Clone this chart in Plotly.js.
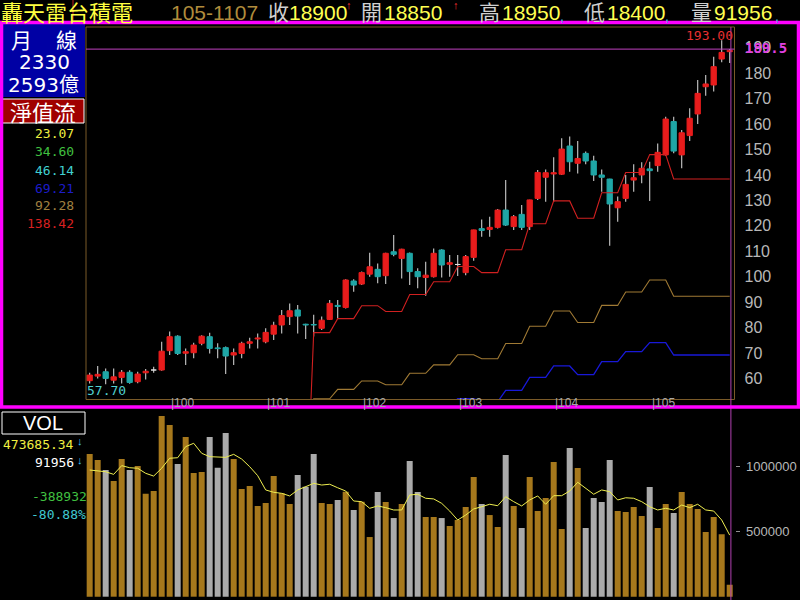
<!DOCTYPE html>
<html><head><meta charset="utf-8">
<script src="https://cdn.plot.ly/plotly-3.0.1.min.js"></script>
<style>html,body{margin:0;padding:0;background:#000}#chart{width:800px;height:600px}</style>
</head><body><div id="chart"></div>
<script>
// ---- data (monthly, index 0 = 99/03 ... index 80 = 105/11) ----
const openP = [59.1,60.9,62.6,59.3,60.4,62.4,58.7,62.2,63.3,63.3,
 70.9,76.6,69.9,70.1,73.8,76.4,72.0,72.1,69.2,69.8,
 73.8,75.5,74.4,77.4,81.0,84.3,86.9,81.3,81.2,79.7,
 83.2,88.7,87.9,98.3,97.1,101.0,102.9,100.4,109.8,107.2,
 109.2,102.0,99.7,100.0,110.5,104.9,104.8,101.6,107.6,118.9,
 118.6,119.4,126.2,119.7,124.5,119.7,130.8,139.1,140.4,140.3,
 151.4,144.6,148.5,145.5,140.0,138.4,127.1,130.8,138.0,140.0,
 142.4,143.7,147.9,161.0,147.9,155.5,164.0,174.7,175.4,185.6,
 188.5];
const highP = [62.2,64.9,63.9,63.9,63.3,63.2,62.6,63.7,64.6,74.4,
 78.4,77.0,71.8,74.0,77.0,78.0,73.8,72.5,71.8,74.4,
 76.0,77.7,79.7,82.3,86.9,89.5,88.9,81.5,85.0,84.3,
 90.8,90.8,99.0,99.0,102.0,109.4,105.2,109.4,116.4,111.0,
 109.5,103.3,105.9,111.1,110.8,108.5,108.5,108.5,118.5,122.5,
 123.6,126.6,138.0,124.3,128.2,130.3,142.0,142.2,147.0,154.4,
 155.1,153.4,149.2,147.6,142.2,138.5,131.5,140.0,144.2,145.0,
 145.2,152.4,162.9,162.9,157.7,166.2,177.4,179.3,186.5,193.0,
 189.5];
const lowP = [58.0,60.0,57.7,58.0,58.0,57.9,58.1,59.6,62.2,63.0,
 69.2,69.2,65.3,67.9,73.0,69.8,67.9,61.7,65.3,67.9,
 71.8,71.8,73.8,75.1,77.7,81.0,77.7,75.5,76.5,79.0,
 83.0,83.6,87.5,94.1,96.7,100.0,97.4,97.1,108.0,99.3,
 96.7,95.5,92.5,99.7,99.7,100.0,100.3,100.6,106.3,115.7,
 115.7,119.0,119.9,118.4,118.4,118.4,130.2,129.5,129.5,140.0,
 141.3,140.6,144.2,137.6,133.4,112.2,121.6,129.5,133.4,136.7,
 129.8,141.3,147.6,148.5,142.6,153.4,160.1,171.2,172.8,184.3,
 184.0];
const closeP = [61.3,61.6,60.0,60.6,62.4,58.4,61.7,62.8,63.3,70.7,
 76.4,69.8,70.5,73.1,76.6,71.8,71.7,68.8,70.1,73.8,
 74.4,75.9,78.1,80.9,84.7,86.6,84.5,81.0,81.0,82.9,
 89.5,88.3,98.7,96.7,101.6,103.9,100.0,109.2,108.8,110.8,
 102.0,100.0,100.6,109.2,104.6,105.5,104.8,107.9,118.4,118.2,
 119.4,126.2,120.3,123.6,119.4,130.2,141.0,140.9,140.9,150.2,
 145.2,146.5,145.5,140.0,139.1,128.6,129.5,136.3,138.9,142.6,
 141.7,148.9,162.0,149.4,156.6,162.3,172.1,175.8,182.6,188.2,
 189.0];
const volume = [1098000,1051000,975000,890000,1059000,975000,1005000,792000,813000,1390000,
 1321000,1021000,1228000,951000,959000,1228000,992000,1259000,1059000,828000,
 851000,698000,721000,928000,795000,713000,936000,846000,1098000,721000,
 713000,744000,808000,667000,731000,459000,805000,728000,605000,713000,
 1044000,805000,613000,613000,605000,544000,590000,690000,921000,713000,
 628000,536000,1090000,698000,528000,921000,659000,759000,1036000,521000,
 1144000,990000,528000,759000,728000,1051000,659000,651000,690000,621000,
 844000,528000,713000,644000,805000,713000,675000,498000,613000,480888,
 91956];
const volAvg = [974600,967000,961000,941000,1008000,992000,988000,949000,928000,988000,
 1065000,1069000,1154000,1180000,1103000,1077000,1072000,1072000,1095000,1059000,
 1000000,931000,821000,803000,795000,775000,821000,846000,872000,859000,
 865000,838000,813000,736000,731000,680000,698000,685000,667000,667000,
 782000,788000,757000,752000,718000,659000,590000,628000,675000,692000,
 711000,700000,769000,731000,698000,744000,775000,711000,777000,777000,
 813000,880000,834000,788000,821000,808000,744000,761000,757000,731000,
 692000,667000,680000,667000,705000,685000,711000,667000,659000,590000,
 473685.34];
// net-value-flow step lines, starting at month index 27
const navStart = 27;
const nav6x = [0, 78,78,78, 83.5,83.5,83.5, 88.6,88.6,88.6, 86.3,86.3,86.3, 93,93,93, 98,98,98,
 104,104,104, 101.6,101.6,101.6, 110.6,110.6,110.6, 120.8,120.8,120.8, 129.8,129.8,129.8,
 123,123,123, 133,133,133, 141,141,141, 148,148,148, 138.42,138.42,138.42,138.42,138.42,138.42,138.42,138.42];
const nav4x = [0, 52,52,52, 55.7,55.7,55.7, 59,59,59, 57.5,57.5,57.5, 62,62,62, 65.3,65.3,65.3,
 69.3,69.3,69.3, 67.7,67.7,67.7, 73.7,73.7,73.7, 80.5,80.5,80.5, 86.5,86.5,86.5,
 82,82,82, 88.7,88.7,88.7, 94,94,94, 98.7,98.7,98.7, 92.28,92.28,92.28,92.28,92.28,92.28,92.28,92.28];
const nav3x = [0, 39,39,39, 41.75,41.75,41.75, 44.3,44.3,44.3, 43.15,43.15,43.15, 46.5,46.5,46.5, 49,49,49,
 52,52,52, 50.8,50.8,50.8, 55.3,55.3,55.3, 60.4,60.4,60.4, 64.9,64.9,64.9,
 61.5,61.5,61.5, 66.6,66.6,66.6, 70.5,70.5,70.5, 74.1,74.1,74.1, 69.21,69.21,69.21,69.21,69.21,69.21,69.21,69.21];
const navLabels = ['23.07','34.60','46.14','69.21','92.28','138.42'];
const yearTickIdx = [10,22,34,46,58,70];
const yearTickText = ['100','101','102','103','104','105'];
const priceTicks = [60,70,80,90,100,110,120,130,140,150,160,170,180,190];
const volTicks = [500000,1000000];
const cursorLevel = 189.5;

// ---- helpers ----
const idx = openP.map((_, i) => i);
const navIdx = nav6x.map((_, i) => i + navStart);
const RED = '#e81c1c', CYAN = '#1fa6a6', WHITE = '#e0e0e0';
const bodyColor = idx.map(i => closeP[i] > openP[i] ? RED : (closeP[i] < openP[i] ? CYAN : WHITE));
const volColor = idx.map(i => closeP[i] >= openP[i] ? '#a6781c' : '#aaaaaa');
const W = 800, H = 600;
const px = x => x / W, py = y => 1 - y / H;

const traces = [
  { type: 'bar', x: idx, base: lowP, y: idx.map(i => highP[i] - lowP[i]), width: 0.14,
    marker: { color: '#c8c8c8', line: { width: 0 } }, xaxis: 'x', yaxis: 'y', hoverinfo: 'skip' },
  { type: 'bar', x: idx, base: openP, y: idx.map(i => closeP[i] - openP[i]), width: 0.66,
    marker: { color: bodyColor, line: { color: bodyColor, width: 1 } }, xaxis: 'x', yaxis: 'y', hoverinfo: 'skip' },
  { type: 'scatter', mode: 'lines', x: navIdx, y: nav3x, line: { color: '#1818d8', width: 1.3 }, xaxis: 'x', yaxis: 'y' },
  { type: 'scatter', mode: 'lines', x: navIdx, y: nav4x, line: { color: '#a07a34', width: 1.1 }, xaxis: 'x', yaxis: 'y' },
  { type: 'scatter', mode: 'lines', x: navIdx, y: nav6x, line: { color: '#d02020', width: 1.1 }, xaxis: 'x', yaxis: 'y' },
  { type: 'bar', x: idx, y: volume, width: 0.75, marker: { color: volColor, line: { width: 0 } },
    xaxis: 'x2', yaxis: 'y2', hoverinfo: 'skip' },
  { type: 'scatter', mode: 'lines', x: idx, y: volAvg, line: { color: '#eeee50', width: 1 }, xaxis: 'x2', yaxis: 'y2' }
];

const mono = 'DejaVu Sans Mono';
const cjk = 'Noto Sans CJK TC';
const sans = 'Liberation Sans';
function ann(text, x, y, size, color, family, anchor) {
  return { xref: 'paper', yref: 'paper', x: px(x), y: py(y), text: text, showarrow: false,
    xanchor: anchor || 'left', yanchor: 'middle', borderpad: 0, font: { size: size, color: color, family: family } };
}
const annotations = [
  // title bar
  ann('轟天雷台積電', 0, 11, 22, '#ffff40', cjk),
  ann('105-1107', 170, 12, 21, '#b08c3c', sans),
  ann('收', 267, 11, 21, '#d0d0d0', cjk),
  ann(String(Math.round(closeP[80] * 100)), 288, 12, 21, '#ffff50', sans),
  ann('↑', 345, 5, 11, '#ff3030', sans),
  ann('開', 360, 11, 21, '#d0d0d0', cjk),
  ann(String(Math.round(openP[80] * 100)), 383, 12, 21, '#ffff50', sans),
  ann('↑', 452, 5, 11, '#ff3030', sans),
  ann('高', 478, 11, 21, '#d0d0d0', cjk),
  ann(String(Math.round(highP[80] * 100)), 501, 12, 21, '#ffff50', sans),
  ann(',', 559, 16, 14, '#40c0e0', sans),
  ann('低', 583, 11, 21, '#d0d0d0', cjk),
  ann(String(Math.round(lowP[80] * 100)), 606, 12, 21, '#ffff50', sans),
  ann(',', 664, 16, 14, '#40c0e0', sans),
  ann('量', 690, 11, 21, '#d0d0d0', cjk),
  ann(String(volume[80]), 713, 12, 21, '#ffff50', sans),
  ann(',', 774, 16, 14, '#40c0e0', sans),
  // left info panel
  ann('月', 21, 39, 21, '#ffffff', cjk, 'center'),
  ann('線', 66, 39, 21, '#ffffff', cjk, 'center'),
  ann('2330', 44, 62, 20, '#ffffff', 'DejaVu Sans', 'center'),
  ann('2593億', 43, 85, 20, '#ffffff', 'DejaVu Sans, ' + cjk, 'center'),
  ann('淨值流', 43, 111, 22, '#ffffff', cjk, 'center'),
  ann(navLabels[0], 75, 133, 13, '#f0f040', mono, 'right'),
  ann(navLabels[1], 75, 151, 13, '#40c040', mono, 'right'),
  ann(navLabels[2], 75, 170, 13, '#40d0d0', mono, 'right'),
  ann(navLabels[3], 75, 188, 13, '#1c1cc8', mono, 'right'),
  ann(navLabels[4], 75, 206, 13, '#a08040', mono, 'right'),
  ann(navLabels[5], 75, 224, 13, '#d82020', mono, 'right'),
  // price labels
  ann(Math.max(...highP).toFixed(2), 734, 35, 13, '#e83030', mono, 'right'),
  ann('<b>' + cursorLevel.toFixed(1) + '</b>', 744, 48, 14, '#e040e0', mono),
  ann(Math.min(...lowP).toFixed(2), 86, 390, 13, '#50d0d0', mono),
  // volume left panel
  ann('VOL', 43, 423, 20, '#ffffff', sans, 'center'),
  ann(volAvg[80].toFixed(2), 75, 444, 13, '#f0f040', mono, 'right'),
  ann('↓', 76, 441, 11, '#40c8f0', sans),
  ann(String(volume[80]), 75, 463, 13, '#ffffff', mono, 'right'),
  ann('↓', 76, 460, 11, '#40c8f0', sans),
  ann(String(volume[80] - volume[79]), 88, 496, 13, '#40c040', mono, 'right'),
  ann(((volume[80] - volume[79]) / volume[79] * 100).toFixed(2) + '%', 87, 514, 13, '#40c8d0', mono, 'right')
];
// year ticks on the time axis
yearTickIdx.forEach((t, k) => {
  annotations.push({ xref: 'x', yref: 'paper', x: t + 0.1, y: py(403), text: '|' + yearTickText[k],
    showarrow: false, xanchor: 'left', yanchor: 'middle', borderpad: 0, font: { size: 12, color: '#a8a8a8', family: sans } });
});

const shapes = [
  { type: 'rect', xref: 'x domain', yref: 'y domain', x0: 0, x1: 1, y0: 0, y1: 1, line: { color: '#7a5a28', width: 1 } },
  { type: 'line', xref: 'x domain', yref: 'y', x0: 0, x1: 1, y0: cursorLevel, y1: cursorLevel, line: { color: '#c040c0', width: 1 } },
  { type: 'line', xref: 'x', yref: 'paper', x0: 80.15, x1: 80.15, y0: 0, y1: py(27), line: { color: '#b040b0', width: 1 } },
  { type: 'rect', xref: 'paper', yref: 'paper', x0: px(2), x1: px(85), y0: py(97), y1: py(24), fillcolor: '#0000a4', line: { width: 0 } },
  { type: 'rect', xref: 'paper', yref: 'paper', x0: px(2), x1: px(84), y0: py(123), y1: py(99), fillcolor: '#a00000', line: { color: '#ffffff', width: 1 } },
  { type: 'rect', xref: 'paper', yref: 'paper', x0: px(2), x1: px(85), y0: py(434), y1: py(412), line: { color: '#ffffff', width: 1 } },
  { type: 'line', xref: 'paper', yref: 'paper', x0: px(73), x1: px(73), y0: py(0), y1: py(20), line: { color: '#c02020', width: 1 } },
  { type: 'rect', xref: 'paper', yref: 'paper', x0: px(1.5), x1: px(798.5), y0: py(407), y1: py(22.5), line: { color: '#ff00ff', width: 3.5 } }
];

const layout = {
  width: W, height: H, margin: { l: 0, r: 0, t: 0, b: 0 },
  paper_bgcolor: '#000', plot_bgcolor: '#000', showlegend: false,
  barmode: 'overlay', hovermode: false, dragmode: false,
  xaxis: { domain: [px(86), px(734.5)], range: [-0.46, 80.6], visible: false, fixedrange: true },
  yaxis: { domain: [py(399.5), py(27)], range: [51.7, 198.2], side: 'right', tickvals: priceTicks,
    ticks: '', showgrid: false, zeroline: false, showline: false, ticklabelstandoff: 9,
    tickfont: { family: sans, size: 16, color: '#b8b8b8' }, fixedrange: true },
  xaxis2: { domain: [px(86), px(734.5)], range: [-0.46, 80.6], visible: false, anchor: 'y2', fixedrange: true },
  yaxis2: { domain: [0, py(412)], range: [-25400, 1420700], side: 'right', anchor: 'x2', tickvals: volTicks,
    ticktext: volTicks.map(String), ticks: 'outside', ticklen: 4, tickcolor: '#909090',
    showgrid: false, zeroline: false, showline: false, ticklabelstandoff: 4,
    tickfont: { family: sans, size: 13, color: '#b8b8b8' }, fixedrange: true },
  annotations: annotations, shapes: shapes
};
Plotly.newPlot('chart', traces, layout, { staticPlot: true, displayModeBar: false });
</script></body></html>
